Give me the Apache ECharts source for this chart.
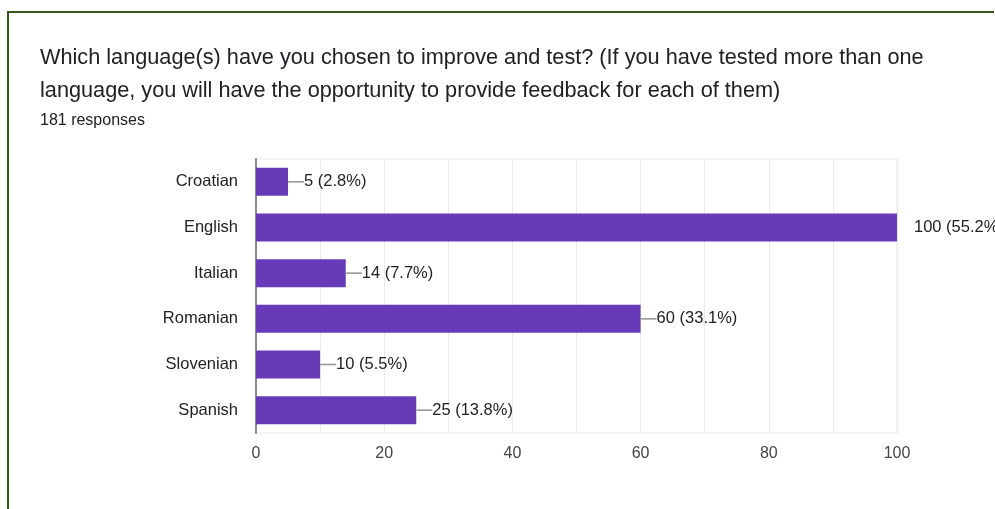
<!DOCTYPE html>
<html>
<head>
<meta charset="utf-8">
<script src="https://cdn.jsdelivr.net/npm/echarts@6/dist/echarts.min.js"></script>
<style>
  html, body { margin: 0; padding: 0; background: #fff; }
  #bar-chart { width: 995px; height: 509px; }
</style>
</head>
<body>
<div id="bar-chart"></div>
<script>
const languages = ['Croatian', 'English', 'Italian', 'Romanian', 'Slovenian', 'Spanish'];
const responses = [5, 100, 14, 60, 10, 25];
const percents = ['2.8%', '55.2%', '7.7%', '33.1%', '5.5%', '13.8%'];
const xTicks = [0, 20, 40, 60, 80, 100];

const barChartFn = () => {
    let barChart = echarts.init(document.getElementById('bar-chart'));
    const xMax = xTicks[xTicks.length - 1];
    const barChartData = {
        textStyle: {
            fontFamily: 'Arial, "Liberation Sans", sans-serif'
        },
        title: [
            {
                text: 'Which language(s) have you chosen to improve and test? (If you have tested more than one\nlanguage, you will have the opportunity to provide feedback for each of them)',
                left: 40,
                top: 42,
                padding: 0,
                textStyle: {
                    fontSize: 21.7,
                    fontWeight: 'normal',
                    lineHeight: 33,
                    color: '#202124'
                }
            },
            {
                text: '181 responses',
                left: 40,
                top: 112,
                padding: 0,
                textStyle: {
                    fontSize: 16,
                    fontWeight: 'normal',
                    lineHeight: 18,
                    color: '#202124'
                }
            }
        ],
        graphic: [
            {
                // green card frame, only top and left edges visible
                type: 'polyline',
                shape: { points: [[8, 509], [8, 12], [994, 12]] },
                style: { stroke: '#38571a', lineWidth: 2, fill: null },
                silent: true
            }
        ],
        grid: {
            left: 256,
            right: 98,
            top: 159,
            bottom: 76,
            show: true,
            borderColor: '#ebebeb',
            borderWidth: 1
        },
        xAxis: {
            type: 'value',
            min: xTicks[0],
            max: xMax,
            interval: xTicks[1] - xTicks[0],
            axisLine: { show: false },
            axisTick: { show: false },
            axisLabel: {
                color: '#444',
                fontSize: 16,
                margin: 13
            },
            splitLine: { lineStyle: { color: '#ebebeb' } },
            minorTick: { show: false, splitNumber: 2 },
            minorSplitLine: { show: true, lineStyle: { color: '#ebebeb' } }
        },
        yAxis: {
            type: 'category',
            data: languages,
            inverse: true,
            axisLine: { lineStyle: { color: '#8a8a8a', width: 2 } },
            axisTick: { show: false },
            axisLabel: {
                color: '#222',
                fontSize: 16.5,
                margin: 18
            }
        },
        series: [
            {
                type: 'bar',
                data: responses,
                barWidth: 28,
                itemStyle: { color: '#673ab7' },
                z: 3,
                label: {
                    show: true,
                    position: 'right',
                    distance: 0,
                    color: '#222',
                    fontSize: 16.5,
                    formatter: p => (p.value >= xMax ? '{gap|}' : '{line|}') + p.value + ' (' + percents[p.dataIndex] + ')',
                    rich: {
                        line: { width: 16, height: 1.6, backgroundColor: '#999', verticalAlign: 'middle' },
                        gap: { width: 17, height: 1 }
                    }
                }
            }
        ]
    };
    barChart.setOption(barChartData);
    return barChart;
};

barChartFn();
</script>
</body>
</html>
